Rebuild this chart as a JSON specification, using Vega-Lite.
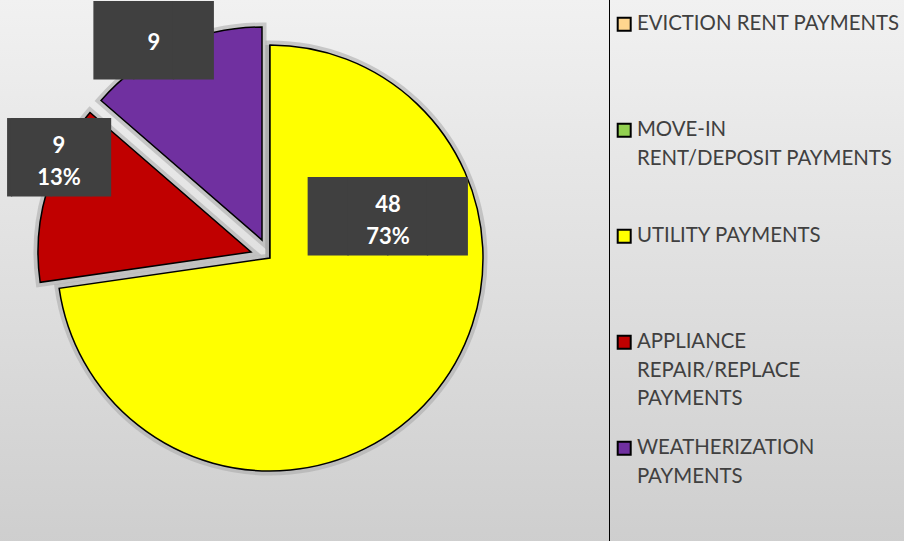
{
  "$schema": "https://vega.github.io/schema/vega-lite/v6.json",
  "width": 540,
  "height": 516,
  "padding": {"left": 0, "top": 0, "right": 364, "bottom": 25},
  "autosize": {"type": "none"},
  "background": "#e2e2e2",
  "config": {
    "view": {"stroke": null},
    "style": {"guide-label": {"lineHeight": 28.5}}
  },
  "data": {
    "values": [
      {"category": "EVICTION RENT PAYMENTS", "value": 0, "label": ""},
      {"category": "MOVE-IN RENT/DEPOSIT PAYMENTS", "value": 0, "label": ""},
      {"category": "UTILITY PAYMENTS", "value": 48, "label": "48\n73%"},
      {"category": "APPLIANCE REPAIR/REPLACE PAYMENTS", "value": 9, "label": "9\n13%"},
      {"category": "WEATHERIZATION PAYMENTS", "value": 9, "label": "9"}
    ]
  },
  "transform": [{"window": [{"op": "row_number", "as": "idx"}]}],
  "layer": [
    {
      "mark": {
        "type": "arc",
        "radius": 760,
        "theta": 6.2832,
        "color": {
          "gradient": "linear",
          "x1": 0, "y1": 0, "x2": 0, "y2": 1,
          "stops": [
            {"offset": 0.33, "color": "#f1f1f1"},
            {"offset": 0.69, "color": "#cecece"}
          ]
        }
      },
      "encoding": {}
    },
    {
      "mark": {
        "type": "arc",
        "radius": 213,
        "fill": "#bdbdbd",
        "stroke": "#a8a8a8",
        "strokeWidth": 9,
        "strokeOpacity": 0.55,
        "xOffset": {"expr": "datum.category == 'APPLIANCE REPAIR/REPLACE PAYMENTS' ? -19 : datum.category == 'WEATHERIZATION PAYMENTS' ? -8 : 0"},
        "yOffset": {"expr": "datum.category == 'APPLIANCE REPAIR/REPLACE PAYMENTS' ? -6 : datum.category == 'WEATHERIZATION PAYMENTS' ? -18 : 0"}
      },
      "encoding": {
        "theta": {"field": "value", "type": "quantitative", "stack": true},
        "order": {"field": "idx", "type": "quantitative"}
      }
    },
    {
      "mark": {
        "type": "arc",
        "radius": 213,
        "stroke": "black",
        "strokeWidth": 1.5,
        "opacity": 1,
        "xOffset": {"expr": "datum.category == 'APPLIANCE REPAIR/REPLACE PAYMENTS' ? -19 : datum.category == 'WEATHERIZATION PAYMENTS' ? -8 : 0"},
        "yOffset": {"expr": "datum.category == 'APPLIANCE REPAIR/REPLACE PAYMENTS' ? -6 : datum.category == 'WEATHERIZATION PAYMENTS' ? -18 : 0"}
      },
      "encoding": {
        "theta": {"field": "value", "type": "quantitative", "stack": true},
        "order": {"field": "idx", "type": "quantitative"},
        "color": {
          "field": "category",
          "type": "nominal",
          "scale": {
            "domain": ["EVICTION RENT PAYMENTS", "MOVE-IN RENT/DEPOSIT PAYMENTS", "UTILITY PAYMENTS", "APPLIANCE REPAIR/REPLACE PAYMENTS", "WEATHERIZATION PAYMENTS"],
            "range": ["#ffd68f", "#92d050", "#ffff00", "#c00000", "#7030a0"]
          },
          "legend": {
            "orient": "none",
            "legendX": 609,
            "legendY": -50,
            "title": null,
            "symbolType": "square",
            "symbolSize": 169,
            "symbolStrokeColor": "black",
            "symbolStrokeWidth": 2,
            "symbolOffset": -59,
            "labelFont": "Lato",
            "labelFontSize": 20.4,
            "labelColor": "#404040",
            "labelOffset": 2.5,
            "labelLimit": 400,
            "labelBaseline": "middle",
            "labelExpr": "datum.label == 'MOVE-IN RENT/DEPOSIT PAYMENTS' ? ['MOVE-IN', 'RENT/DEPOSIT PAYMENTS'] : datum.label == 'APPLIANCE REPAIR/REPLACE PAYMENTS' ? ['APPLIANCE', 'REPAIR/REPLACE', 'PAYMENTS'] : datum.label == 'WEATHERIZATION PAYMENTS' ? ['WEATHERIZATION', 'PAYMENTS'] : datum.label",
            "gridAlign": "all",
            "rowPadding": 27,
            "padding": 64,
            "strokeColor": "black",
            "encode": {
              "labels": {"update": {"lineHeight": {"value": 28.5}}},
              "legend": {
                "update": {
                  "strokeWidth": {"value": 2},
                  "fill": {
                    "value": {
                      "gradient": "linear",
                      "x1": 0, "y1": 0, "x2": 0, "y2": 1,
                      "stops": [
                        {"offset": 0, "color": "#f0f0f0"},
                        {"offset": 1, "color": "#dadada"}
                      ]
                    }
                  }
                }
              }
            }
          }
        }
      }
    },
    {
      "transform": [{"filter": "datum.value > 0"}],
      "mark": {
        "type": "text",
        "font": "DejaVu Sans Mono",
        "fontSize": 66,
        "color": "#404040",
        "align": "center",
        "baseline": "middle",
        "dx": {"expr": "datum.category == 'APPLIANCE REPAIR/REPLACE PAYMENTS' ? -7.5 : 0"},
        "radius": {"expr": "datum.category == 'UTILITY PAYMENTS' ? 124.4 : datum.category == 'APPLIANCE REPAIR/REPLACE PAYMENTS' ? 232.6 : 244.7"},
        "thetaOffset": {"expr": "datum.category == 'UTILITY PAYMENTS' ? -1.037 : datum.category == 'APPLIANCE REPAIR/REPLACE PAYMENTS' ? 0.148 : -0.066"}
      },
      "encoding": {
        "theta": {"field": "value", "type": "quantitative", "stack": true},
        "order": {"field": "idx", "type": "quantitative"},
        "text": {
          "condition": [
            {"test": "datum.category == 'UTILITY PAYMENTS'", "value": "████"},
            {"test": "datum.category == 'APPLIANCE REPAIR/REPLACE PAYMENTS'", "value": "▕██▌"}
          ],
          "value": "███"
        }
      }
    },
    {
      "transform": [{"filter": "datum.value > 0"}],
      "mark": {
        "type": "text",
        "font": "Lato",
        "fontWeight": "bold",
        "fontSize": 22,
        "lineHeight": 32,
        "lineBreak": "\n",
        "color": "white",
        "align": "center",
        "baseline": "middle",
        "dy": {"expr": "datum.category == 'WEATHERIZATION PAYMENTS' ? 0 : -14"},
        "radius": {"expr": "datum.category == 'UTILITY PAYMENTS' ? 124.4 : datum.category == 'APPLIANCE REPAIR/REPLACE PAYMENTS' ? 232.6 : 244.7"},
        "thetaOffset": {"expr": "datum.category == 'UTILITY PAYMENTS' ? -1.037 : datum.category == 'APPLIANCE REPAIR/REPLACE PAYMENTS' ? 0.148 : -0.066"}
      },
      "encoding": {
        "theta": {"field": "value", "type": "quantitative", "stack": true},
        "order": {"field": "idx", "type": "quantitative"},
        "text": {"field": "label", "type": "nominal"}
      }
    }
  ]
}
